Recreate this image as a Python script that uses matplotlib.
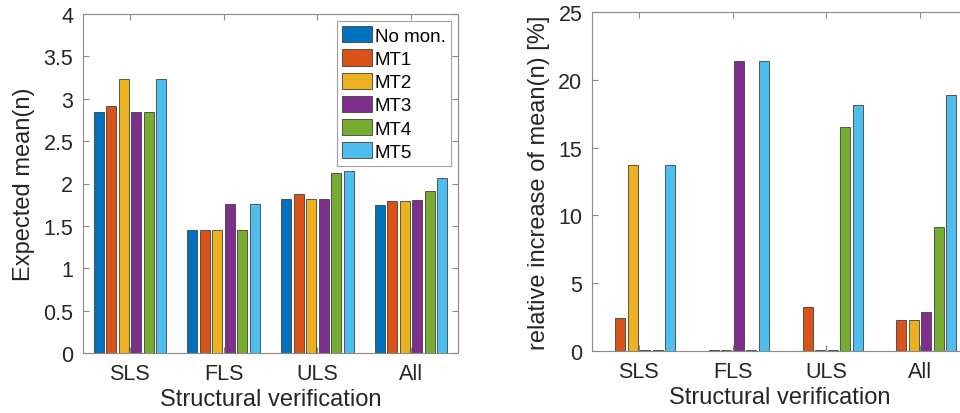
import numpy as np
import matplotlib.pyplot as plt

plt.rcParams['font.family'] = ['Liberation Sans', 'DejaVu Sans']

groups = ['SLS', 'FLS', 'ULS', 'All']
series = ['No mon.', 'MT1', 'MT2', 'MT3', 'MT4', 'MT5']

# expected mean(n) per verification type, one list per monitoring strategy
mean_n = [
    [2.84, 1.45, 1.82, 1.75],   # No mon.
    [2.91, 1.45, 1.88, 1.79],   # MT1
    [3.23, 1.45, 1.82, 1.79],   # MT2
    [2.84, 1.76, 1.82, 1.80],   # MT3
    [2.84, 1.45, 2.12, 1.91],   # MT4
    [3.23, 1.76, 2.15, 2.07],   # MT5
]

# relative increase of mean(n) in percent
rel_inc = [
    [0.0, 0.0, 0.0, 0.0],
    [2.46, 0.1, 3.28, 2.27],
    [13.74, 0.1, 0.1, 2.27],
    [0.1, 21.38, 0.1, 2.86],
    [0.1, 0.1, 16.50, 9.11],
    [13.74, 21.38, 18.13, 18.87],
]

colors = ['#0072BD', '#D95319', '#EDB120', '#7E2F8E', '#77AC30', '#4DBEEE']
txt = '#262626'
axcol = '#8a8a8a'


def grouped_bars(ax, data):
    x = np.arange(1, len(groups) + 1)
    n = len(data)
    slot = 0.8 / n
    for i, vals in enumerate(data):
        off = (i - (n - 1) / 2) * slot
        ax.bar(x + off, vals, width=slot * 0.8, color=colors[i],
               edgecolor='#404040', linewidth=0.6, label=series[i], zorder=2)
    ax.set_xlim(0.5, len(groups) + 0.5)
    ax.set_xticks(x)
    ax.set_xticklabels(groups)
    ax.tick_params(direction='in', top=True, right=True, length=4,
                   color=axcol, labelcolor=txt, labelsize=15.5, pad=7)
    for s in ax.spines.values():
        s.set_color(axcol)
        s.set_linewidth(0.8)
    ax.set_xlabel('Structural verification', fontsize=17, color=txt, labelpad=3)


fig = plt.figure(figsize=(9.6, 4.14), dpi=100)
ax1 = fig.add_axes([83 / 960, 1 - 354 / 414, 375 / 960, 339 / 414])
ax2 = fig.add_axes([592 / 960, 1 - 352 / 414, 375 / 960, 339 / 414])

grouped_bars(ax1, mean_n)
ax1.set_ylim(0, 4)
ax1.set_yticks(np.arange(0, 4.01, 0.5))
ax1.set_yticklabels(['0', '0.5', '1', '1.5', '2', '2.5', '3', '3.5', '4'])
ax1.set_ylabel('Expected mean(n)', fontsize=17, color=txt, labelpad=6)
leg = ax1.legend(loc='upper right', fontsize=13.5, frameon=True, fancybox=False,
                 handlelength=1.6, handleheight=0.95, handletextpad=0.15,
                 labelspacing=0.25, borderpad=0.3, borderaxespad=0.35,
                 labelcolor='black')
leg.get_frame().set_edgecolor(axcol)
leg.get_frame().set_linewidth(0.8)

grouped_bars(ax2, rel_inc)
ax2.set_ylim(0, 25)
ax2.set_yticks(np.arange(0, 26, 5))
ax2.set_ylabel('relative increase of mean(n) [%]', fontsize=17, color=txt, labelpad=6)

fig.savefig('out.png', dpi=100)
